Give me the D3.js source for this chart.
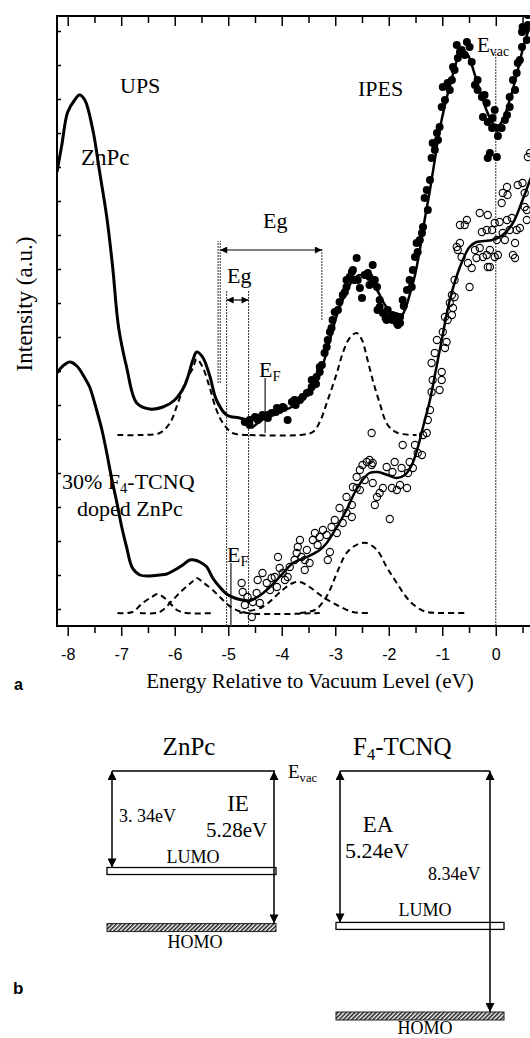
<!DOCTYPE html>
<html>
<head>
<meta charset="utf-8">
<script src="https://cdn.jsdelivr.net/npm/d3@7"></script>
<style>
  body { margin: 0; background: #fff; }
  svg { display: block; }
</style>
</head>
<body>
<div id="chart"></div>
<script>
// ---- panel a data: [energy (eV), intensity (a.u. counts)] ----
const znpcUps = [[-8.20,454],[-8.11,481],[-8.00,514],[-7.87,526],[-7.78,531],[-7.68,526],[-7.53,496],[-7.40,453],
  [-7.27,409],[-7.16,359],[-7.05,299],[-6.90,259],[-6.71,223],[-6.47,217],[-6.22,219],[-6.00,226],[-5.81,241],
  [-5.66,266],[-5.59,274],[-5.48,269],[-5.35,251],[-5.22,226],[-5.03,211],[-4.79,208],[-4.56,205]];

const dopedUps = [[-8.20,253],[-8.09,260],[-7.96,264],[-7.83,260],[-7.68,248],[-7.59,239],[-7.46,216],[-7.36,196],
  [-7.27,173],[-7.18,148],[-7.08,123],[-6.99,99],[-6.90,79],[-6.79,58],[-6.65,51],[-6.47,50],[-6.28,51],[-6.15,52],
  [-6.00,56],[-5.85,61],[-5.72,66],[-5.63,66],[-5.53,64],[-5.40,59],[-5.29,48],[-5.16,39],[-5.03,32],[-4.88,28],
  [-4.73,26],[-4.60,25]];

const znpcIpes = [[-4.69,204],[-4.50,209],[-4.36,211],[-4.19,213],[-4.04,216],[-3.89,206],[-3.81,224],[-3.66,226],
  [-3.53,233],[-3.44,239],[-3.35,249],[-3.25,261],[-3.20,273],[-3.14,286],[-3.07,298],[-3.01,314],[-2.92,324],
  [-2.86,331],[-2.79,339],[-2.73,349],[-2.69,354],[-2.60,368],[-2.58,346],[-2.54,338],[-2.50,328],[-2.45,351],
  [-2.39,353],[-2.30,361],[-2.26,346],[-2.22,339],[-2.21,316],[-2.11,313],[-2.02,308],[-1.93,306],[-1.83,301],
  [-1.79,309],[-1.74,326],[-1.66,336],[-1.61,346],[-1.55,356],[-1.51,369],[-1.48,383],[-2.02,316],[-1.79,303],
  [-1.42,386],[-1.36,399],[-1.33,428],[-1.29,436],[-1.23,446],[-1.20,468],[-1.18,483],[-1.10,493],[-1.05,499],
  [-1.01,519],[-0.95,526],[-0.99,539],[-0.90,543],[-0.82,546],[-0.80,559],[-0.71,568],[-0.73,581],[-0.67,574],
  [-0.58,571],[-0.54,584],[-0.49,579],[-0.45,564],[-0.39,541],[-0.34,536],[-0.26,529],[-0.17,523],[-0.24,509],
  [-0.15,504],[-0.02,516],[-0.07,498],[0.02,498],[0.04,490],[-0.11,473],[0.02,469],[-0.15,468],[0.11,498],
  [0.21,511],[0.26,519],[0.26,529],[0.32,546],[0.39,553],[0.41,563],[0.49,579],[0.49,594],[0.50,599],[0.58,586],
  [0.60,601],[0.60,611],[-4.60,201],[-4.45,206],[-4.26,208],[-4.11,214],[-3.96,218],[-3.74,221],[-3.61,229],
  [-3.48,234],[-3.36,242],[-3.29,254],[-3.16,279],[-3.10,294],[-2.95,316],[-2.82,334],[-2.65,346],[-2.36,341],
  [-2.17,326],[-2.06,308],[-1.87,310],[-1.72,320],[-1.57,339],[-1.46,374],[-1.38,393],[-1.27,416],[-1.14,476],
  [-1.08,486],[-0.86,536],[-0.77,556],[-0.64,576],[-0.34,546],[-0.21,531],[-0.06,508],[0.17,506],[0.36,536],
  [0.45,566],[0.56,596],[-4.60,206],[-4.41,208],[-4.26,211],[-4.09,218],[-3.98,219],[-3.76,226],[-3.44,246],
  [-3.29,259],[-3.05,306],[-2.79,346],[-2.67,356],[-2.36,349],[-2.17,319],[-2.04,306],[-1.93,311],[-1.85,303]];

const dopedIpes = [[-4.75,43],[-4.73,34],[-4.64,29],[-4.54,24],[-4.56,9],[-4.47,33],[-4.41,23],[-4.45,46],[-4.36,53],
  [-4.28,43],[-4.22,36],[-4.19,48],[-4.13,49],[-4.09,39],[-4.04,58],[-4.07,69],[-3.98,53],[-3.94,46],[-3.89,49],
  [-3.85,59],[-3.76,66],[-3.72,73],[-3.70,79],[-3.66,86],[-3.63,69],[-3.57,66],[-3.53,76],[-3.57,56],[-3.48,63],
  [-3.42,86],[-3.38,93],[-3.33,81],[-3.29,89],[-3.23,96],[-3.16,91],[-3.14,66],[-3.10,74],[-3.07,99],[-3.01,106],
  [-2.97,93],[-2.92,118],[-2.86,103],[-2.79,113],[-2.79,129],[-2.69,109],[-2.69,121],[-2.67,139],[-2.60,149],
  [-2.60,138],[-2.54,136],[-2.54,156],[-2.49,161],[-2.45,146],[-2.41,164],[-2.36,166],[-2.32,161],[-2.30,143],
  [-2.26,121],[-2.22,129],[-2.32,193],[-2.30,163],[-2.17,133],[-2.11,138],[-2.04,159],[-1.98,107],[-1.94,138],
  [-1.93,154],[-1.89,164],[-1.85,136],[-1.79,141],[-1.76,158],[-1.74,181],[-1.66,138],[-1.64,153],[-1.61,164],
  [-1.55,158],[-1.51,181],[-1.46,173],[-1.38,171],[-1.36,191],[-1.29,193],[-1.27,206],[-1.23,216],[-1.20,234],
  [-1.18,246],[-1.20,263],[-1.14,273],[-1.10,286],[-1.01,254],[-1.05,236],[-1.01,246],[-0.95,278],[-0.92,284],
  [-0.90,306],[-0.95,309],[-0.82,311],[-0.80,318],[-0.86,323],[-0.77,329],[-0.82,331],[-0.77,346],[-0.49,339],
  [-0.45,358],[-0.52,363],[-0.64,369],[-0.71,376],[-0.67,383],[-0.73,379],[-0.67,401],[-0.54,406],[-0.58,401],
  [-0.30,413],[-0.15,411],[-0.26,394],[-0.17,396],[-0.07,396],[-0.02,403],[0.07,404],[0.21,406],[0.30,408],
  [0.39,396],[0.26,396],[0.13,393],[0.02,386],[-0.11,376],[-0.30,378],[-0.39,376],[-0.36,368],[-0.24,369],
  [-0.17,371],[-0.02,369],[0.04,371],[-0.15,359],[0.17,386],[0.36,383],[0.32,371],[0.36,368],[0.45,398],
  [0.58,406],[0.58,416],[0.54,419],[0.13,433],[0.22,431],[0.21,439],[0.11,423],[0.41,441],[0.50,443],[0.54,433],
  [0.60,469],[0.64,473],[-4.69,21],[-0.99,294],[-0.11,359]];

const znpcFit = [[-4.56,198],[-4.22,211],[-3.85,218],[-3.57,228],[-3.38,241],[-3.25,258],[-3.10,286],[-2.97,311],
  [-2.82,331],[-2.67,346],[-2.54,351],[-2.39,348],[-2.22,336],[-2.07,321],[-1.93,311],[-1.79,308],[-1.70,316],
  [-1.61,331],[-1.51,351],[-1.42,376],[-1.33,406],[-1.23,436],[-1.14,466],[-1.05,496],[-0.95,521],[-0.82,548],
  [-0.71,568],[-0.62,576],[-0.52,571],[-0.39,551],[-0.24,526],[-0.11,508],[0.02,499],[0.13,506],[0.26,526],
  [0.39,551],[0.50,576],[0.64,601],[0.73,616]];

const dopedFit = [[-4.64,24],[-4.45,29],[-4.28,36],[-4.04,49],[-3.79,63],[-3.53,69],[-3.29,76],[-3.16,83],[-2.97,99],
  [-2.79,116],[-2.64,133],[-2.49,146],[-2.36,153],[-2.21,154],[-2.02,151],[-1.85,148],[-1.70,151],[-1.57,161],
  [-1.46,178],[-1.35,201],[-1.23,226],[-1.12,256],[-1.01,286],[-0.86,326],[-0.67,359],[-0.49,379],[-0.36,384],
  [-0.06,386],[0.13,391],[0.32,403],[0.50,426],[0.64,446],[0.77,466]];

// fitted components (dashed)
const znpcHomoPeak = [[-7.07,191],[-6.65,191],[-6.28,193],[-6.09,203],[-5.94,223],[-5.78,246],[-5.66,258],[-5.59,267],
  [-5.48,259],[-5.35,239],[-5.22,216],[-5.10,203],[-4.92,193],[-4.60,191]];
const znpcLumoPeak = [[-4.60,191],[-3.66,191],[-3.42,194],[-3.29,204],[-3.14,226],[-2.97,253],[-2.86,273],[-2.73,288],
  [-2.60,293],[-2.50,286],[-2.41,269],[-2.30,246],[-2.17,223],[-2.02,201],[-1.83,193],[-1.48,191]];
const dopedPeakA = [[-7.07,13],[-6.79,14],[-6.60,23],[-6.43,29],[-6.32,32],[-6.19,28],[-6.09,23],[-5.96,16],[-5.78,13],[-5.25,13]];
const dopedPeakB = [[-6.65,13],[-6.28,14],[-6.04,26],[-5.85,36],[-5.68,44],[-5.59,48],[-5.48,44],[-5.29,36],[-5.10,26],
  [-4.92,18],[-4.65,13],[-3.29,13]];
const dopedPeakC = [[-4.79,13],[-4.36,19],[-4.09,31],[-3.94,38],[-3.79,43],[-3.66,44],[-3.48,39],[-3.23,29],[-2.97,21],
  [-2.67,14],[-2.36,13]];
const dopedPeakD = [[-3.66,13],[-3.38,16],[-3.23,24],[-3.10,36],[-2.97,53],[-2.79,73],[-2.64,80],[-2.50,83],[-2.41,83],
  [-2.22,76],[-2.04,59],[-1.85,43],[-1.66,28],[-1.48,19],[-1.29,14],[-1.05,13],[-0.58,13]];

// guide lines: energy, intensity from, intensity to
const guideLines = [[-5.19,243,385],[-5.15,243,385],[-5.03,0,336],[-4.62,0,336],[-3.25,306,378],[0,0,574]];
const fermiLines = [[-4.31,193,248],[-4.95,0,63]];

const majorTicks = [-8,-7,-6,-5,-4,-3,-2,-1,0,1];
const tickLabels = ["-8","-7","-6","-5","-4","-3","-2","-1","0",""];
const minorTicks = [-7.5,-6.5,-5.5,-4.5,-3.5,-2.5,-1.5,-0.5,0.5];
const intensityTicks = d3.range(17, 610, 34);

// ---- panel b data ----
const molecules = ["ZnPc", "F4-TCNQ"];
const lumoLevels = [-3.34, -5.24];
const homoLevels = [-5.28, -8.34];

const W = 530, H = 1038;
const svg = d3.select("#chart").append("svg")
  .attr("width", W).attr("height", H)
  .style("font-family", "'Liberation Serif','Times New Roman',serif");

const defs = svg.append("defs");
defs.append("clipPath").attr("id", "plotclip")
  .append("rect").attr("x", 57).attr("y", 16).attr("width", 503).attr("height", 610);

function marker(id, w, h) {
  defs.append("marker").attr("id", id)
    .attr("viewBox", "0 0 10 10").attr("refX", 10).attr("refY", 5)
    .attr("markerWidth", w).attr("markerHeight", h)
    .attr("markerUnits", "userSpaceOnUse").attr("orient", "auto-start-reverse")
    .append("path").attr("d", "M0,0L10,5L0,10z").attr("fill", "#000");
}
marker("bigHead", 17, 7);
marker("smallHead", 9, 7);
marker("bHead", 11, 9);

const hatch = defs.append("pattern").attr("id", "hatch")
  .attr("patternUnits", "userSpaceOnUse").attr("width", 3).attr("height", 3)
  .attr("patternTransform", "rotate(45)");
hatch.append("rect").attr("width", 3).attr("height", 3).attr("fill", "#fff");
hatch.append("rect").attr("width", 1.6).attr("height", 3).attr("fill", "#222");

// ---- panel a ----
const x = d3.scaleLinear().domain([-8.2, 1.2]).range([57, 560]);
const y = d3.scaleLinear().domain([0, 610]).range([626, 16]);

function axisStyle(g) {
  g.select(".domain").remove();
  g.selectAll("line").attr("stroke-width", 1.5);
}
svg.append("g").attr("transform", "translate(0,626)")
  .call(d3.axisBottom(x).tickValues(majorTicks).tickSize(10).tickPadding(13)
    .tickFormat((d, i) => tickLabels[i]))
  .call(axisStyle)
  .call(g => g.selectAll("text").attr("font-family", "'Liberation Sans',Arial,sans-serif").attr("font-size", 16).attr("fill", "#000"));
svg.append("g").attr("transform", "translate(0,626)")
  .call(d3.axisBottom(x).tickValues(minorTicks).tickSize(7).tickFormat(""))
  .call(axisStyle);
svg.append("g").attr("transform", "translate(0,16)")
  .call(d3.axisTop(x).tickValues(majorTicks).tickSize(-10).tickFormat(""))
  .call(axisStyle);
svg.append("g").attr("transform", "translate(0,16)")
  .call(d3.axisTop(x).tickValues(minorTicks).tickSize(-7).tickFormat(""))
  .call(axisStyle);
svg.append("g").attr("transform", "translate(57,0)")
  .call(d3.axisLeft(y).tickValues(intensityTicks).tickSize(-4).tickFormat(""))
  .call(axisStyle);

svg.append("rect").attr("x", 57).attr("y", 16).attr("width", 503).attr("height", 610)
  .attr("fill", "none").attr("stroke", "#000").attr("stroke-width", 2);

const plot = svg.append("g").attr("clip-path", "url(#plotclip)");
const line = d3.line().x(d => x(d[0])).y(d => y(d[1])).curve(d3.curveCatmullRom);

// guide lines
plot.selectAll(".guide").data(guideLines).join("line")
  .attr("x1", d => x(d[0])).attr("x2", d => x(d[0]))
  .attr("y1", d => y(d[1])).attr("y2", d => y(d[2]))
  .attr("stroke", "#333").attr("stroke-width", 1).attr("stroke-dasharray", "2,1");
plot.selectAll(".fermi").data(fermiLines).join("line")
  .attr("x1", d => x(d[0])).attr("x2", d => x(d[0]))
  .attr("y1", d => y(d[1])).attr("y2", d => y(d[2]))
  .attr("stroke", "#444").attr("stroke-width", 1.5);

// dashed components
[znpcHomoPeak, znpcLumoPeak, dopedPeakA, dopedPeakB, dopedPeakC, dopedPeakD].forEach(s => {
  plot.append("path").attr("d", line(s)).attr("fill", "none")
    .attr("stroke", "#000").attr("stroke-width", 2).attr("stroke-dasharray", "6,4");
});

// data points
plot.selectAll(".open").data(dopedIpes).join("circle")
  .attr("cx", d => x(d[0])).attr("cy", d => y(d[1])).attr("r", 3.6)
  .attr("fill", "none").attr("stroke", "#000").attr("stroke-width", 1.1);
plot.selectAll(".filled").data(znpcIpes).join("circle")
  .attr("cx", d => x(d[0])).attr("cy", d => y(d[1])).attr("r", 4).attr("fill", "#000");

// solid curves
[[znpcUps, 3], [dopedUps, 3], [znpcFit, 2.5], [dopedFit, 2.5]].forEach(([s, w]) => {
  plot.append("path").attr("d", line(s)).attr("fill", "none")
    .attr("stroke", "#000").attr("stroke-width", w).attr("stroke-linejoin", "round");
});

// gap arrows
svg.append("line").attr("x1", x(-5.15)).attr("x2", x(-3.25)).attr("y1", y(376)).attr("y2", y(376))
  .attr("stroke", "#000").attr("stroke-width", 1.2)
  .attr("marker-start", "url(#bigHead)").attr("marker-end", "url(#bigHead)");
svg.append("line").attr("x1", x(-5.03)).attr("x2", x(-4.62)).attr("y1", y(326)).attr("y2", y(326))
  .attr("stroke", "#000").attr("stroke-width", 1.2)
  .attr("marker-start", "url(#smallHead)").attr("marker-end", "url(#smallHead)");

function label(parent, px, py, parts, size, anchor) {
  const t = parent.append("text").attr("x", px).attr("y", py)
    .attr("font-size", size).attr("text-anchor", anchor || "start").attr("fill", "#000");
  let shift = 0;
  parts.forEach(p => {
    const sub = typeof p !== "string";
    const s = sub ? p.sub : p;
    const want = sub ? size * 0.2 : 0;
    t.append("tspan").text(s).attr("dy", want - shift)
      .attr("font-size", sub ? size * 0.66 : size);
    shift = want;
  });
  return t;
}

label(svg, 120, 93, ["UPS"], 22);
label(svg, 358, 96, ["IPES"], 22);
label(svg, 81, 165, ["ZnPc"], 23);
label(svg, 477, 52, ["E", {sub: "vac"}], 21);
label(svg, 263, 228, ["Eg"], 22);
label(svg, 227, 283, ["Eg"], 22);
label(svg, 259, 377, ["E", {sub: "F"}], 22);
label(svg, 227, 562, ["E", {sub: "F"}], 22);
label(svg, 62, 489, ["30% F", {sub: "4"}, "-TCNQ"], 22);
label(svg, 77, 516, ["doped ZnPc"], 22);

svg.append("text").attr("transform", "translate(32,304) rotate(-90)")
  .attr("text-anchor", "middle").attr("font-size", 23).text("Intensity (a.u.)");
svg.append("text").attr("x", 310).attr("y", 688).attr("text-anchor", "middle")
  .attr("font-size", 21).text("Energy Relative to Vacuum Level (eV)");
svg.append("text").attr("x", 14).attr("y", 690).attr("font-family", "'Liberation Sans',Arial,sans-serif")
  .attr("font-weight", "bold").attr("font-size", 16).text("a");

// ---- panel b ----
const yb = d3.scaleLinear().domain([0, -8.34]).range([771, 1012]);
const cols = [
  {left: 107, right: 276, vacL: 112, vacR: 275, arrL: 112, arrR: 274},
  {left: 336, right: 504, vacL: 340, vacR: 490, arrL: 340, arrR: 490}
];
const pb = svg.append("g");

molecules.forEach((m, i) => {
  const c = cols[i];
  pb.append("line").attr("x1", c.vacL).attr("x2", c.vacR).attr("y1", yb(0)).attr("y2", yb(0))
    .attr("stroke", "#000").attr("stroke-width", 1.5);
  pb.append("rect").attr("x", c.left).attr("y", yb(lumoLevels[i])).attr("width", c.right - c.left).attr("height", 7)
    .attr("fill", "#fff").attr("stroke", "#000").attr("stroke-width", 1.3);
  pb.append("rect").attr("x", c.left).attr("y", yb(homoLevels[i])).attr("width", c.right - c.left).attr("height", 8)
    .attr("fill", "url(#hatch)").attr("stroke", "#222").attr("stroke-width", 1);
  pb.append("line").attr("x1", c.arrL).attr("x2", c.arrL).attr("y1", yb(0)).attr("y2", yb(lumoLevels[i]))
    .attr("stroke", "#000").attr("stroke-width", 1.5)
    .attr("marker-start", "url(#bHead)").attr("marker-end", "url(#bHead)");
  pb.append("line").attr("x1", c.arrR).attr("x2", c.arrR).attr("y1", yb(0)).attr("y2", yb(homoLevels[i]))
    .attr("stroke", "#000").attr("stroke-width", 1.5)
    .attr("marker-start", "url(#bHead)").attr("marker-end", "url(#bHead)");
});

label(pb, 189, 755, ["ZnPc"], 25, "middle");
label(pb, 353, 755, ["F", {sub: "4"}, "-TCNQ"], 25);
label(pb, 288, 778, ["E", {sub: "vac"}], 19);
label(pb, 119, 822, ["3. 34eV"], 18);
label(pb, 238, 811, ["IE"], 23, "middle");
label(pb, 206, 837, ["5.28eV"], 21);
label(pb, 193, 863, ["LUMO"], 18, "middle");
label(pb, 195, 948, ["HOMO"], 18, "middle");
label(pb, 378, 832, ["EA"], 23, "middle");
label(pb, 345, 858, ["5.24eV"], 22);
label(pb, 428, 880, ["8.34eV"], 18);
label(pb, 425, 916, ["LUMO"], 18, "middle");
label(pb, 425, 1034, ["HOMO"], 18, "middle");
pb.append("text").attr("x", 13).attr("y", 994).attr("font-family", "'Liberation Sans',Arial,sans-serif")
  .attr("font-weight", "bold").attr("font-size", 17).text("b");
</script>
</body>
</html>
